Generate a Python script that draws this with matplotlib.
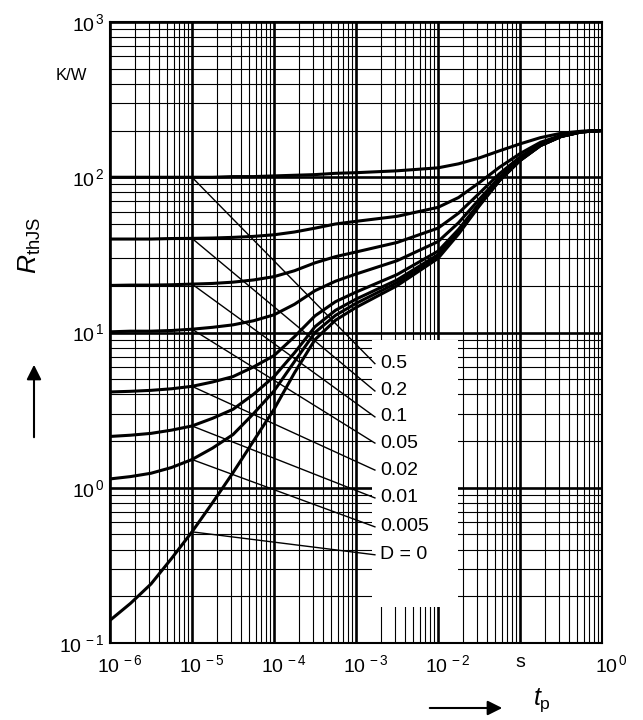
import matplotlib

matplotlib.use("Agg")
import matplotlib.pyplot as plt
import matplotlib.transforms as mtransforms
from matplotlib.patches import Rectangle, FancyArrowPatch
from matplotlib.ticker import LogLocator, NullFormatter

plt.rcParams["font.family"] = ["Liberation Sans", "DejaVu Sans"]
plt.rcParams["mathtext.fontset"] = "custom"
plt.rcParams["mathtext.rm"] = "Liberation Sans"
plt.rcParams["mathtext.it"] = "Liberation Sans:italic"

# pulse width tp in s (log10)
log_tp = [-6, -5.75, -5.5, -5.25, -5, -4.75, -4.5, -4.25, -4, -3.75, -3.5, -3.25,
          -3, -2.5, -2, -1.75, -1.5, -1.25, -1, -0.75, -0.5, -0.25, 0]

# RthJS in K/W for each duty cycle D
z_d05 = [100, 100, 100, 100, 100, 100, 101, 101, 102, 103, 104, 106,
         107, 110, 115, 122, 133, 148, 164, 180, 192, 198, 200]
z_d02 = [40, 40, 40, 40.3, 40.4, 40.6, 41, 41.6, 42.6, 44.4, 47, 50,
         52, 56, 64, 74, 92, 116, 142, 168, 186, 197, 200]
z_d01 = [20.1, 20.2, 20.2, 20.3, 20.5, 20.7, 21.1, 21.8, 22.9, 25, 28.1, 30.8,
         33, 38, 47, 58.7, 78.5, 105.5, 135, 164, 185, 196, 200]
z_d005 = [10.1, 10.2, 10.2, 10.3, 10.5, 10.8, 11.2, 11.9, 13, 15.2, 18.6, 21.4,
          23.8, 29, 38.5, 50.9, 71.8, 100, 132, 162, 184, 196, 200]
z_d002 = [4.14, 4.18, 4.24, 4.34, 4.5, 4.8, 5.2, 6.0, 7.1, 9.4, 12.8, 15.8,
          18.2, 23.6, 33.4, 46.1, 67.7, 97, 129, 161, 183, 196, 200]
z_d001 = [2.14, 2.18, 2.24, 2.35, 2.5, 2.8, 3.2, 4.0, 5.2, 7.4, 10.9, 13.9,
          16.4, 21.8, 31.7, 44.6, 66.4, 96, 129, 160, 183, 196, 200]
z_d0005 = [1.14, 1.18, 1.24, 1.35, 1.52, 1.8, 2.2, 3.0, 4.2, 6.5, 10, 12.9,
           15.4, 20.9, 30.9, 43.8, 65.7, 95.5, 128, 160, 183, 196, 200]
z_d0 = [0.14, 0.18, 0.24, 0.35, 0.52, 0.80, 1.25, 2.0, 3.2, 5.5, 9.0, 12,
        14.5, 20, 30, 43, 65, 95, 128, 160, 183, 196, 200]

curves = [z_d05, z_d02, z_d01, z_d005, z_d002, z_d001, z_d0005, z_d0]
duty_labels = ["0.5", "0.2", "0.1", "0.05", "0.02", "0.01", "0.005", "D = 0"]
label_y = [6.3, 4.2, 2.86, 1.94, 1.30, 0.86, 0.56, 0.37]

x_ticks = [1e-6, 1e-5, 1e-4, 1e-3, 1e-2, 1e-1, 1e0]
x_ticklabels = [r"$10^{\,-6}$", r"$10^{\,-5}$", r"$10^{\,-4}$", r"$10^{\,-3}$",
                r"$10^{\,-2}$", "s", r"$10^{\,0}$"]
y_ticks = [1e-1, 1e0, 1e1, 1e2, 1e3]
y_ticklabels = [r"$10^{\,-1}$", r"$10^{\,0}$", r"$10^{\,1}$", r"$10^{\,2}$", r"$10^{\,3}$"]

fig = plt.figure(figsize=(6.43, 7.2), dpi=100)
ax = fig.add_axes([110 / 643, 1 - 643 / 720, 492 / 643, 621 / 720])
ax.set_xscale("log")
ax.set_yscale("log")
ax.set_xlim(1e-6, 1e0)
ax.set_ylim(1e-1, 1e3)
ax.set_axisbelow(True)

ax.xaxis.set_minor_locator(LogLocator(base=10, subs=range(2, 10), numticks=20))
ax.yaxis.set_minor_locator(LogLocator(base=10, subs=range(2, 10), numticks=20))
ax.xaxis.set_minor_formatter(NullFormatter())
ax.yaxis.set_minor_formatter(NullFormatter())
ax.set_xticks(x_ticks)
ax.set_xticklabels(x_ticklabels, fontsize=14)
ax.set_yticks(y_ticks)
ax.set_yticklabels(y_ticklabels, fontsize=14)
ax.tick_params(which="both", length=0)
ax.tick_params(axis="x", pad=8)
ax.tick_params(axis="y", pad=4)

ax.grid(which="major", color="black", lw=1.9)
ax.grid(which="minor", color="black", lw=0.8)
for sp in ax.spines.values():
    sp.set_linewidth(1.5)

# shift the "10" part under its grid line
shift = mtransforms.ScaledTranslation(7 / 72, 0, fig.dpi_scale_trans)
for lab in ax.get_xticklabels():
    if lab.get_text() != "s":
        lab.set_transform(lab.get_transform() + shift)

# white box behind the D labels
ax.add_patch(Rectangle((1.57e-3, 0.17), 1.75e-2 - 1.57e-3, 9.0 - 0.17,
                       facecolor="white", edgecolor="none", zorder=1.8))

t = [10 ** v for v in log_tp]
for z in curves:
    ax.plot(t, z, color="black", lw=2.2, zorder=3, solid_capstyle="butt",
            solid_joinstyle="round")

for z, lab, ly in zip(curves, duty_labels, label_y):
    ax.plot([1e-5, 1.7e-3], [z[4], ly], color="black", lw=1.0, zorder=3)
    ax.text(1.95e-3, ly, lab, fontsize=14, ha="left", va="center", zorder=4)

fig.text(87 / 643, 1 - 75 / 720, "K/W", ha="right", va="center", fontsize=12)
fig.text(30 / 643, 1 - 245 / 720, r"$R_{\mathrm{thJS}}$", rotation=90,
         ha="center", va="center", fontsize=19)
fig.text(542 / 643, 1 - 700 / 720, r"$t_{\mathrm{p}}$", ha="center", va="center",
         fontsize=18)

fig.patches.append(FancyArrowPatch(
    (34 / 643, 1 - 440 / 720), (34 / 643, 1 - 362 / 720),
    transform=fig.transFigure, arrowstyle="-|>", mutation_scale=22,
    color="black", lw=1.5))
fig.patches.append(FancyArrowPatch(
    (427 / 643, 1 - 708 / 720), (505 / 643, 1 - 708 / 720),
    transform=fig.transFigure, arrowstyle="-|>", mutation_scale=22,
    color="black", lw=1.5))

fig.savefig("out.png", dpi=100)
